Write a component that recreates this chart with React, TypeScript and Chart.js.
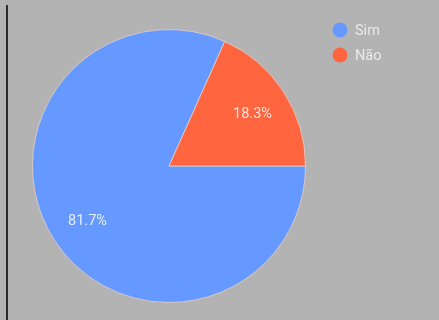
import React, { useEffect, useRef } from "react";
import { Chart, registerables } from "chart.js";

Chart.register(...registerables);

const categories = ["Sim", "Não"];
const values = [81.7, 18.3];
const colors = ["#6699ff", "#ff6640"];

export default function App() {
  const ref = useRef<HTMLCanvasElement | null>(null);

  useEffect(() => {
    if (!ref.current) return;
    const labelPlugin = {
      id: "pctLabels",
      afterDatasetsDraw(chart: any) {
        const ctx = chart.ctx;
        const meta = chart.getDatasetMeta(0);
        ctx.save();
        ctx.font = "14.5px Roboto";
        ctx.fillStyle = "rgba(255,255,255,0.82)";
        ctx.textAlign = "center";
        ctx.textBaseline = "middle";
        meta.data.forEach((arc: any, i: number) => {
          const p = arc.getProps(["x", "y", "startAngle", "endAngle", "outerRadius"], true);
          const mid = (p.startAngle + p.endAngle) / 2;
          const r = p.outerRadius * 0.72;
          ctx.fillText(values[i].toFixed(1) + "%", p.x + Math.cos(mid) * r + 1, p.y + Math.sin(mid) * r + 2);
        });
        ctx.restore();
      },
    };
    const legendPlugin = {
      id: "customLegend",
      afterDraw(chart: any) {
        const ctx = chart.ctx;
        ctx.save();
        ctx.font = "14.5px Roboto";
        ctx.textBaseline = "middle";
        categories.forEach((c, i) => {
          const cy = 30 + i * 25;
          ctx.beginPath();
          ctx.arc(340, cy, 7.5, 0, Math.PI * 2);
          ctx.fillStyle = colors[i];
          ctx.fill();
          ctx.fillStyle = "rgba(240,240,240,0.9)";
          ctx.fillText(c, 355, cy + 1);
        });
        ctx.restore();
      },
    };
    const chart = new Chart(ref.current, {
      type: "pie",
      data: {
        labels: categories,
        datasets: [
          {
            data: values,
            backgroundColor: colors,
            borderColor: "rgba(225,205,200,0.85)",
            borderWidth: 1,
            hoverBorderWidth: 1,
          },
        ],
      },
      options: {
        animation: false,
        responsive: false,
        rotation: 90,
        layout: { padding: { left: 32, top: 29, right: 133, bottom: 17 } },
        plugins: {
          legend: { display: false },
          tooltip: { enabled: false },
        },
      },
      plugins: [labelPlugin, legendPlugin],
    });
    return () => chart.destroy();
  }, []);

  return (
    <div style={{ position: "fixed", left: 0, top: 0, width: 439, height: 320, background: "#b3b3b3" }}>
      <canvas ref={ref} width={439} height={320} style={{ position: "absolute", left: 0, top: 0 }} />
      <div style={{ position: "absolute", left: 6, top: 5, width: 2, height: 315, background: "#2b2b2b" }} />
    </div>
  );
}
